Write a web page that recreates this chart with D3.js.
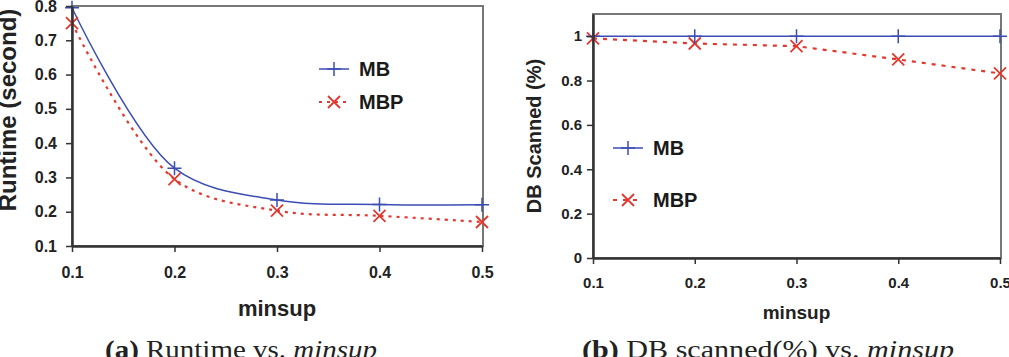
<!DOCTYPE html>
<html lang="en">
<head>
    <meta charset="UTF-8">
    <title>MB vs MBP</title>
    <script src="https://cdn.jsdelivr.net/npm/d3@7/dist/d3.min.js"></script>
    <style>
        body { margin: 0; background: #fff; }
        svg { display: block; }
    </style>
</head>
<body>
<script type="text/javascript">
    // values
    var minsup = [0.1, 0.2, 0.3, 0.4, 0.5];
    var runtimeMB = [0.795, 0.327, 0.234, 0.221, 0.22];
    var runtimeMBP = [0.75, 0.295, 0.203, 0.188, 0.17];
    var scannedMB = [1, 1, 1, 1, 1];
    var scannedMBP = [0.99, 0.967, 0.955, 0.895, 0.832];
    var runtimeTicks = [0.1, 0.2, 0.3, 0.4, 0.5, 0.6, 0.7, 0.8];
    var scannedTicks = [0, 0.2, 0.4, 0.6, 0.8, 1];
    var seriesNames = ['MB', 'MBP'];

    var blue = '#3b4db5', red = '#e2392f';

    var svg = d3.select('body').append('svg')
            .attr('width', 1009)
            .attr('height', 357);

    function plusPath(s) {
        return 'M' + (-s) + ',0H' + s + 'M0,' + (-s) + 'V' + s;
    }
    function crossPath(s) {
        return 'M' + (-s) + ',' + (-s) + 'L' + s + ',' + s + 'M' + (-s) + ',' + s + 'L' + s + ',' + (-s);
    }

    function panel(o) {
        var x = d3.scaleLinear().domain([0.1, 0.5]).range(o.xr);
        var y = d3.scaleLinear().domain(o.yd).range(o.yr);
        var g = svg.append('g');

        // grey frame
        g.append('rect')
                .attr('x', o.xr[0]).attr('y', o.yr[1])
                .attr('width', o.xr[1] - o.xr[0] + 1)
                .attr('height', o.yr[0] - o.yr[1])
                .attr('fill', 'none')
                .attr('stroke', '#777')
                .attr('stroke-width', 2);

        var line = d3.line()
                .x(function (d, i) { return x(minsup[i]); })
                .y(function (d) { return y(d); })
                .curve(o.smooth ? d3.curveCatmullRom.alpha(0.5) : d3.curveLinear);

        g.append('path').datum(o.mbp)
                .attr('d', line)
                .attr('fill', 'none')
                .attr('stroke', red)
                .attr('stroke-width', 2.2)
                .attr('stroke-dasharray', o.dash);
        g.append('path').datum(o.mb)
                .attr('d', line)
                .attr('fill', 'none')
                .attr('stroke', blue)
                .attr('stroke-width', 1.5);

        g.selectAll('.mbp').data(o.mbp).enter().append('path')
                .attr('transform', function (d, i) { return 'translate(' + x(minsup[i]) + ',' + y(d) + ')'; })
                .attr('d', crossPath(6))
                .attr('stroke', red).attr('stroke-width', 1.8);
        g.selectAll('.mb').data(o.mb).enter().append('path')
                .attr('transform', function (d, i) { return 'translate(' + x(minsup[i]) + ',' + y(d) + ')'; })
                .attr('d', plusPath(7))
                .attr('stroke', blue).attr('stroke-width', 1.5);

        // axes
        var ya = g.append('g')
                .attr('transform', 'translate(' + o.xr[0] + ',0)')
                .call(d3.axisLeft(y).tickValues(o.ticks).tickSize(6).tickSizeOuter(0)
                        .tickPadding(o.ypad).tickFormat(d3.format('~g')));
        var xa = g.append('g')
                .attr('transform', 'translate(0,' + o.yr[0] + ')')
                .call(d3.axisBottom(x).tickValues(minsup).tickSize(6).tickSizeOuter(0)
                        .tickPadding(o.xpad).tickFormat(d3.format('.1f')));
        [ya, xa].forEach(function (a) {
            a.select('.domain').attr('stroke', '#333').attr('stroke-width', 2.5);
            a.selectAll('.tick line').attr('stroke', '#333').attr('stroke-width', 1.5);
            a.selectAll('text')
                    .attr('fill', '#222')
                    .style('font', 'bold ' + o.tickFont + 'px Arial, "Liberation Sans", sans-serif');
        });

        // axis titles
        g.append('text')
                .attr('transform', 'translate(' + o.ytx + ',' + o.yty + ') rotate(-90)')
                .attr('text-anchor', 'middle')
                .attr('fill', '#222')
                .style('font', 'bold ' + o.ytFont + 'px Arial, "Liberation Sans", sans-serif')
                .text(o.ytitle);
        g.append('text')
                .attr('x', (o.xr[0] + o.xr[1]) / 2)
                .attr('y', o.xty)
                .attr('text-anchor', 'middle')
                .attr('fill', '#222')
                .style('font', 'bold ' + o.xtFont + 'px Arial, "Liberation Sans", sans-serif')
                .text('minsup');

        // legend
        var lg = g.append('g').attr('transform', 'translate(' + o.lx + ',' + o.ly + ')');
        seriesNames.forEach(function (name, i) {
            var row = lg.append('g').attr('transform', 'translate(0,' + i * o.lgap + ')');
            row.append('line')
                    .attr('x1', 0).attr('x2', 30)
                    .attr('stroke', i ? red : blue)
                    .attr('stroke-width', i ? 2.2 : 1.5)
                    .attr('stroke-dasharray', i ? o.dash : null);
            row.append('path')
                    .attr('transform', 'translate(15,0)')
                    .attr('d', i ? crossPath(6) : plusPath(7))
                    .attr('stroke', i ? red : blue)
                    .attr('stroke-width', i ? 1.8 : 1.5);
            row.append('text')
                    .attr('x', 40).attr('dy', '0.36em')
                    .attr('fill', '#1a1a1a')
                    .style('font', 'bold 20px Arial, "Liberation Sans", sans-serif')
                    .text(name);
        });

        // caption (sits on the bottom edge, partly cut off as in the figure)
        var cap = g.append('text')
                .attr('x', o.capx).attr('y', 358)
                .attr('textLength', o.capw)
                .attr('lengthAdjust', 'spacingAndGlyphs')
                .attr('fill', '#222')
                .style('font', '26px "Liberation Serif", "DejaVu Serif", serif');
        cap.append('tspan').style('font-weight', 'bold').text(o.capTag);
        cap.append('tspan').text(o.capText);
        cap.append('tspan').style('font-style', 'italic').text('minsup');
    }

    panel({
        xr: [72, 482], yr: [246, 6], yd: [0.1, 0.8],
        mb: runtimeMB, mbp: runtimeMBP, ticks: runtimeTicks,
        smooth: true, dash: '3,5',
        tickFont: 16, ypad: 9, xpad: 15,
        ytitle: 'Runtime (second)', ytFont: 24, ytx: 16, yty: 110,
        xtFont: 22, xty: 316,
        lx: 319, ly: 69, lgap: 33,
        capx: 105, capw: 272, capTag: '(a)', capText: ' Runtime vs. '
    });

    panel({
        xr: [593, 1000], yr: [258, 14], yd: [0, 1.1],
        mb: scannedMB, mbp: scannedMBP, ticks: scannedTicks,
        smooth: false, dash: '4,6',
        tickFont: 15, ypad: 5, xpad: 13,
        ytitle: 'DB Scanned (%)', ytFont: 20, ytx: 541, yty: 136,
        xtFont: 19, xty: 319,
        lx: 613, ly: 148, lgap: 52,
        capx: 582, capw: 372, capTag: '(b)', capText: ' DB scanned(%) vs. '
    });
</script>
</body>
</html>
